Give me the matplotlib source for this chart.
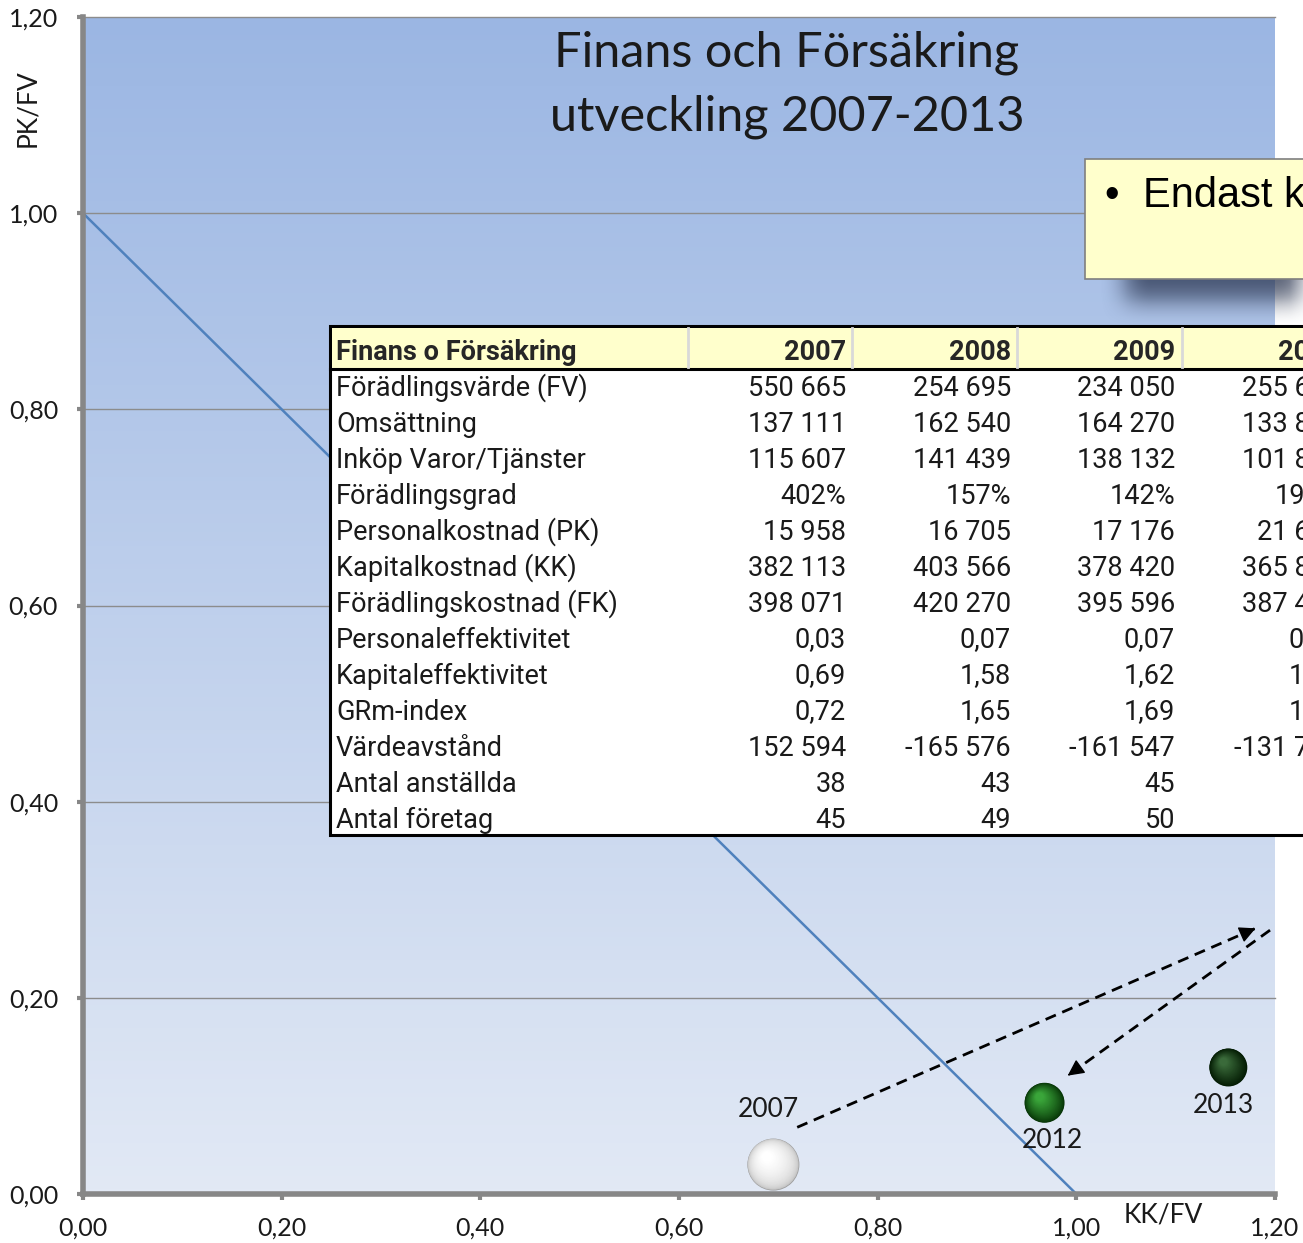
import numpy as np
import matplotlib
matplotlib.use('Agg')
import matplotlib.pyplot as plt
from matplotlib.patches import Rectangle, Ellipse
from matplotlib.colors import LinearSegmentedColormap, to_rgb
from matplotlib.ticker import FuncFormatter

# --- data ---
years = [2007, 2012, 2013]
kk_fv = [0.695, 0.968, 1.153]   # x: KK/FV
pk_fv = [0.030, 0.093, 0.129]   # y: PK/FV

table_years = ['2007', '2008', '2009', '2010']
fv = [550665, 254695, 234050, 255640]
omsattning = [137111, 162540, 164270, 133820]
inkop = [115607, 141439, 138132, 101840]
fgrad = [402, 157, 142, 191]
pk = [15958, 16705, 17176, 21600]
kk = [382113, 403566, 378420, 365810]
fk = [398071, 420270, 395596, 387410]
pers_eff = [0.03, 0.07, 0.07, 0.08]
kap_eff = [0.69, 1.58, 1.62, 1.43]
grm = [0.72, 1.65, 1.69, 1.52]
vardeavst = [152594, -165576, -161547, -131770]
anstallda = [38, 43, 45, 47]
foretag = [45, 49, 50, 52]

# dashed movement arrows (start, end) in KK/FV, PK/FV units
arrow_out = [(0.719, 0.068), (1.183, 0.272)]
arrow_back = [(1.195, 0.269), (0.989, 0.119)]


def num(v):
    return '{:,}'.format(v).replace(',', ' ')


def dec(v):
    return '{:.2f}'.format(v).replace('.', ',')


rows = [
    ('Förädlingsvärde (FV)', [num(v) for v in fv]),
    ('Omsättning', [num(v) for v in omsattning]),
    ('Inköp Varor/Tjänster', [num(v) for v in inkop]),
    ('Förädlingsgrad', ['%d%%' % v for v in fgrad]),
    ('Personalkostnad (PK)', [num(v) for v in pk]),
    ('Kapitalkostnad (KK)', [num(v) for v in kk]),
    ('Förädlingskostnad (FK)', [num(v) for v in fk]),
    ('Personaleffektivitet', [dec(v) for v in pers_eff]),
    ('Kapitaleffektivitet', [dec(v) for v in kap_eff]),
    ('GRm-index', [dec(v) for v in grm]),
    ('Värdeavstånd', [num(v) for v in vardeavst]),
    ('Antal anställda', [str(v) for v in anstallda]),
    ('Antal företag', [str(v) for v in foretag]),
]

plt.rcParams['font.family'] = ['Lato', 'DejaVu Sans']

W, H = 1303, 1243
fig = plt.figure(figsize=(W / 100, H / 100), dpi=100)
ax = fig.add_axes([83 / W, 1 - 1194 / H, (1275 - 83) / W, (1194 - 17) / H])
ax.set_xlim(0, 1.2)
ax.set_ylim(0, 1.2)

# gradient plot area
grad = np.linspace(1, 0, 256).reshape(-1, 1)
cmap = LinearSegmentedColormap.from_list('bg', ['#E2E9F5', '#9BB6E3'])
ax.imshow(grad, extent=[0, 1.2, 0, 1.2], aspect='auto', cmap=cmap,
          origin='upper', zorder=0)

ticks = np.arange(0, 1.21, 0.2)
for t in ticks[1:]:
    ax.axhline(t, color='#8C8C8C', lw=1, zorder=1, clip_on=False)

fmt = FuncFormatter(lambda v, p: ('%.2f' % v).replace('.', ','))
ax.set_xticks(ticks)
ax.set_yticks(ticks)
ax.xaxis.set_major_formatter(fmt)
ax.yaxis.set_major_formatter(fmt)
for s in ['top', 'right']:
    ax.spines[s].set_visible(False)
for s in ['left', 'bottom']:
    ax.spines[s].set_color('#878787')
    ax.spines[s].set_linewidth(4)
ax.tick_params(direction='out', length=4, width=3, color='#878787',
               labelsize=18, labelcolor='#1a1a1a')
ax.tick_params(axis='x', pad=12)
ax.tick_params(axis='y', pad=14)

ax.plot([0, 1], [1, 0], color='#4F81BD', lw=1.8, zorder=2, clip_on=False)

# spheres
p0 = ax.transData.transform((0, 0))
p1 = ax.transData.transform((1, 1))
sx, sy = p1[0] - p0[0], p1[1] - p0[1]


def sphere(x, y, r, edge, core, gamma=1.0, n=40):
    e, c = np.array(to_rgb(edge)), np.array(to_rgb(core))
    for i in range(n):
        t = i / (n - 1)
        rr = r * (1 - 0.8 * t)
        cx = x - 0.25 * r * t / sx
        cy = y + 0.3 * r * t / sy
        col = e + (c - e) * (t ** gamma)
        ax.add_patch(Ellipse((cx, cy), 2 * rr / sx, 2 * rr / sy, fc=col,
                             ec='none', zorder=4, clip_on=False))


sphere_style = {
    2007: (26, '#9c9c9c', '#ffffff', 0.25),
    2012: (20, '#063306', '#3aa53a', 0.8),
    2013: (19, '#041c04', '#3a6a3a', 1.0),
}
for yr, x, y in zip(years, kk_fv, pk_fv):
    r, e, c, g = sphere_style[yr]
    sphere(x, y, r, e, c, g)

label_pos = {2007: (-0.005, 0.056), 2012: (0.008, -0.038), 2013: (-0.005, -0.039)}
for yr, x, y in zip(years, kk_fv, pk_fv):
    dx, dy = label_pos[yr]
    ax.text(x + dx, y + dy, str(yr), fontsize=19, ha='center', va='center',
            color='#1a1a1a', zorder=5)

# arrows
for (a, b) in [arrow_out, arrow_back]:
    ax.plot([a[0], b[0]], [a[1], b[1]], color='black', lw=2,
            dashes=(4, 2.5), zorder=5, clip_on=False)
    vx, vy = b[0] - a[0], b[1] - a[1]
    ax.annotate('', xy=b, xytext=(b[0] - 0.03 * vx, b[1] - 0.03 * vy),
                arrowprops=dict(arrowstyle='-|>', color='black', lw=1,
                                mutation_scale=25), zorder=5,
                annotation_clip=False)

# overlay in pixel coordinates
ov = fig.add_axes([0, 0, 1, 1], zorder=5)
ov.set_xlim(0, W)
ov.set_ylim(H, 0)
ov.axis('off')
ov.patch.set_visible(False)

ov.text(787, 53, 'Finans och Försäkring', ha='center', va='center', fontsize=35, color='#1a1a1a')
ov.text(787, 117, 'utveckling 2007-2013', ha='center', va='center', fontsize=35, color='#1a1a1a')
ov.text(28, 108, 'PK/FV', rotation=90, ha='center', va='center', fontsize=19, color='#1a1a1a')
ov.text(1163, 1215, 'KK/FV', ha='center', va='center', fontsize=19, color='#1a1a1a')

# callout with soft shadow
sx0, sx1, sy0, sy1 = 1040, W, 140, 360
yy, xx = np.mgrid[sy0:sy1, sx0:sx1]
mask = ((xx >= 1125) & (yy >= 190) & (yy <= 300)).astype(float)
k = np.ones(27) / 27
for _ in range(2):
    mask = np.apply_along_axis(lambda m: np.convolve(m, k, mode='same'), 0, mask)
    mask = np.apply_along_axis(lambda m: np.convolve(m, k, mode='same'), 1, mask)
rgba = np.zeros(mask.shape + (4,))
rgba[..., :3] = to_rgb('#2a3550')
rgba[..., 3] = 0.75 * mask
ov.imshow(rgba, extent=[sx0, sx1, sy1, sy0], aspect='auto', zorder=1)
ov.set_xlim(0, W)
ov.set_ylim(H, 0)
ov.add_patch(Rectangle((1085, 159), 300, 120, fc='#FFFFCC', ec='#7F7F7F', lw=1.2, zorder=2))
ov.text(1112, 196, '•', fontsize=30, family='Liberation Sans', ha='center', va='center', zorder=3)
ov.text(1143, 196, 'Endast kapitalkostnaden', fontsize=30, family='Liberation Sans',
        ha='left', va='center', zorder=3)

# data table
ov.add_patch(Rectangle((330, 326), 1100, 509, fc='white', ec='black', lw=2.2, zorder=3))
ov.add_patch(Rectangle((332, 328), 1100, 40, fc='#FFFFCC', ec='none', zorder=3))
ov.plot([330, 1400], [369, 369], color='black', lw=2.2, zorder=4)
for x in [688, 852, 1017, 1182]:
    ov.plot([x, x], [328, 367], color='#D9D9D9', lw=2, zorder=4)

tfont = 'Roboto'
tsize = 19.5
col_right = [846, 1011, 1175, 1340]
ov.text(336, 352, 'Finans o Försäkring', fontsize=tsize, fontweight='bold', family=tfont,
        ha='left', va='center', color='#262626', zorder=5)
for xr, yr in zip(col_right, table_years):
    ov.text(xr, 352, yr, fontsize=tsize, fontweight='bold', family=tfont,
            ha='right', va='center', color='#262626', zorder=5)
for i, (name, vals) in enumerate(rows):
    yc = 388 + 36 * i
    ov.text(336, yc, name, fontsize=tsize, family=tfont, ha='left', va='center',
            color='#1a1a1a', zorder=5)
    for xr, v in zip(col_right, vals):
        ov.text(xr, yc, v, fontsize=tsize, family=tfont, ha='right', va='center',
                color='#1a1a1a', zorder=5)

fig.savefig('out.png', dpi=100)
